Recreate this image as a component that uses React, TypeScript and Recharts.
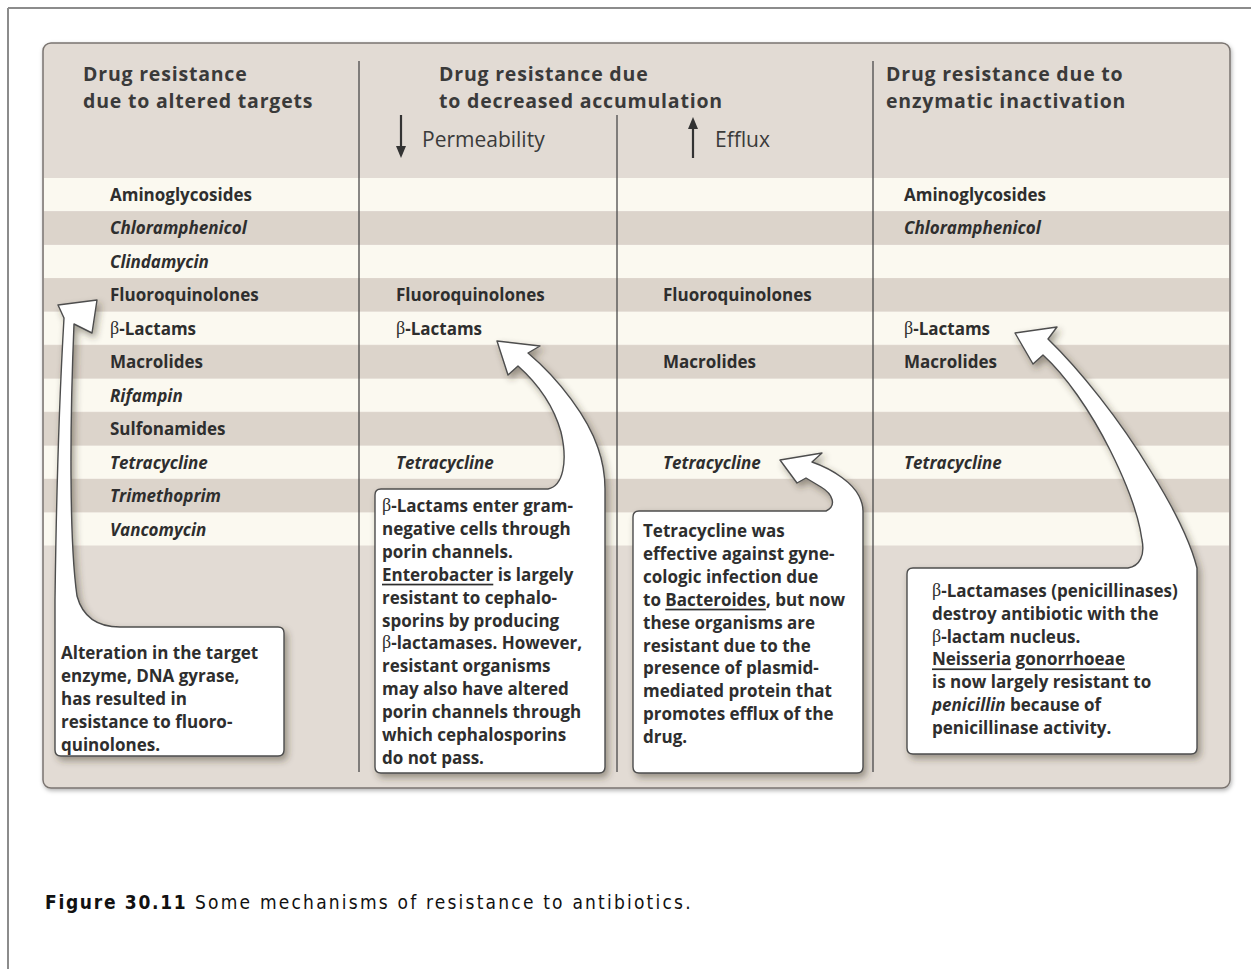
import React from 'react';
import { BarChart, Bar, XAxis, YAxis, Cell, LabelList } from 'recharts';

// rows of the table, top to bottom
const drugs = [
  'Aminoglycosides',
  'Chloramphenicol',
  'Clindamycin',
  'Fluoroquinolones',
  'β-Lactams',
  'Macrolides',
  'Rifampin',
  'Sulfonamides',
  'Tetracycline',
  'Trimethoprim',
  'Vancomycin',
];
const italicDrugs = ['Chloramphenicol', 'Clindamycin', 'Rifampin', 'Tetracycline', 'Trimethoprim', 'Vancomycin'];

// 1 = drug listed under that mechanism
const alteredTargets = [1, 1, 1, 1, 1, 1, 1, 1, 1, 1, 1];
const decreasedPermeability = [0, 0, 0, 1, 1, 0, 0, 0, 1, 0, 0];
const increasedEfflux = [0, 0, 0, 1, 0, 1, 0, 0, 1, 0, 0];
const enzymaticInactivation = [1, 1, 0, 0, 1, 1, 0, 0, 1, 0, 0];

const mechanisms = [alteredTargets, decreasedPermeability, increasedEfflux, enzymaticInactivation];

const rows = drugs.map((drug, i) => ({
  drug,
  band: 1,
  altered: alteredTargets[i],
  permeability: decreasedPermeability[i],
  efflux: increasedEfflux[i],
  enzymatic: enzymaticInactivation[i],
}));

const W = 1251;
const H = 969;
const FONT = "'Open Sans', 'Noto Sans', sans-serif";
const TEXT = '#2e2e2e';
const LIGHT_ROW = '#fbf9f0';
const DARK_ROW = '#dcd4cb';
const PANEL = '#e2dbd4';

// x offset of each column's text from the left of the row band
const colOffsets = [66, 352, 619, 860];

const DrugName = ({ x, y, name }: { x: number; y: number; name: string }) => {
  const italic = italicDrugs.includes(name);
  const beta = name.startsWith('β');
  return (
    <text
      x={x}
      y={y}
      dominantBaseline="central"
      fontFamily={FONT}
      fontSize={17}
      fontWeight={700}
      fontStyle={italic ? 'italic' : 'normal'}
      fill={TEXT}
    >
      {beta ? (
        <>
          <tspan fontFamily="'Liberation Serif', serif" fontWeight={400} fontSize={18}>β</tspan>
          {name.slice(1)}
        </>
      ) : (
        name
      )}
    </text>
  );
};

const RowLabels = (props: any) => {
  const x = Number(props.x);
  const y = Number(props.y);
  const h = Number(props.height);
  const i = drugs.indexOf(props.value);
  if (i < 0) return null;
  return (
    <g>
      {mechanisms.map((m, k) =>
        m[i] ? <DrugName key={k} x={x + colOffsets[k]} y={y + h / 2} name={drugs[i]} /> : null
      )}
    </g>
  );
};

type Seg = { t: string; u?: boolean; i?: boolean; b?: boolean };

const callouts: { path: string; x: number; y0: number; dy: number; lines: Seg[][] }[] = [
  {
    path:
      'M 55 750 L 55 600 C 56 520 58 420 64 318 L 58 305 L 97 300 L 92 333 L 74 324 C 70 420 69 540 77 596 C 83 618 98 627 120 627 L 278 627 Q 284 627 284 633 L 284 750 Q 284 756 278 756 L 61 756 Q 55 756 55 750 Z',
    x: 61,
    y0: 652,
    dy: 23,
    lines: [
      [{ t: 'Alteration in the target' }],
      [{ t: 'enzyme, DNA gyrase,' }],
      [{ t: 'has resulted in' }],
      [{ t: 'resistance to fluoro-' }],
      [{ t: 'quinolones.' }],
    ],
  },
  {
    path:
      'M 381 489 L 548 489 C 563 486 568 462 561 432 C 553 404 536 382 518 366 L 508 375 L 497 341 L 540 346 L 528 353 C 560 380 588 418 598 448 C 604 465 605 478 605 489 L 605 767 Q 605 773 599 773 L 381 773 Q 375 773 375 767 L 375 495 Q 375 489 381 489 Z',
    x: 382,
    y0: 505,
    dy: 22.9,
    lines: [
      [{ t: 'β', b: true }, { t: '-Lactams enter gram-' }],
      [{ t: 'negative cells through' }],
      [{ t: 'porin channels.' }],
      [{ t: 'Enterobacter', u: true }, { t: ' is largely' }],
      [{ t: 'resistant to cephalo-' }],
      [{ t: 'sporins by producing' }],
      [{ t: 'β', b: true }, { t: '-lactamases.  However,' }],
      [{ t: 'resistant organisms' }],
      [{ t: 'may also have altered' }],
      [{ t: 'porin channels through' }],
      [{ t: 'which cephalosporins' }],
      [{ t: 'do not pass.' }],
    ],
  },
  {
    path:
      'M 639 511 L 826 511 C 837 506 833 494 821 487 L 806 478 L 797 483 L 780 460 L 822 453 L 812 462 C 835 470 853 484 859 496 C 863 504 863 508 863 511 L 863 767 Q 863 773 857 773 L 639 773 Q 633 773 633 767 L 633 517 Q 633 511 639 511 Z',
    x: 643,
    y0: 530,
    dy: 22.9,
    lines: [
      [{ t: 'Tetracycline was' }],
      [{ t: 'effective against gyne-' }],
      [{ t: 'cologic infection due' }],
      [{ t: 'to ' }, { t: 'Bacteroides', u: true }, { t: ', but now' }],
      [{ t: 'these organisms are' }],
      [{ t: 'resistant due to the' }],
      [{ t: 'presence of plasmid-' }],
      [{ t: 'mediated protein that' }],
      [{ t: 'promotes efflux of the' }],
      [{ t: 'drug.' }],
    ],
  },
  {
    path:
      'M 913 568 L 1128 568 C 1140 566 1145 555 1142 540 C 1138 510 1125 480 1110 450 C 1090 410 1065 375 1043 355 L 1033 364 L 1015 333 L 1057 327 L 1048 339 C 1080 370 1120 420 1150 470 C 1175 510 1190 540 1197 568 L 1197 748 Q 1197 754 1191 754 L 913 754 Q 907 754 907 748 L 907 574 Q 907 568 913 568 Z',
    x: 932,
    y0: 590,
    dy: 22.8,
    lines: [
      [{ t: 'β', b: true }, { t: '-Lactamases (penicillinases)' }],
      [{ t: 'destroy antibiotic with the' }],
      [{ t: 'β', b: true }, { t: '-lactam nucleus.' }],
      [{ t: 'Neisseria', u: true }, { t: ' ' }, { t: 'gonorrhoeae', u: true }],
      [{ t: 'is now largely resistant to' }],
      [{ t: 'penicillin', i: true }, { t: ' because of' }],
      [{ t: 'penicillinase activity.' }],
    ],
  },
];

const headers = [
  { x: 83, lines: ['Drug resistance', 'due to altered targets'] },
  { x: 439, lines: ['Drug resistance due', 'to decreased accumulation'] },
  { x: 886, lines: ['Drug resistance due to', 'enzymatic inactivation'] },
];

const App: React.FC = () => {
  return (
    <div style={{ position: 'absolute', left: 0, top: 0, width: W, height: H, background: '#fff', overflow: 'hidden' }}>
      {/* page frame and panel */}
      <svg width={W} height={H} style={{ position: 'absolute', left: 0, top: 0 }}>
        <defs>
          <filter id="panelShadow" x="-5%" y="-5%" width="110%" height="110%">
            <feDropShadow dx="1" dy="2" stdDeviation="2" floodColor="#000" floodOpacity="0.3" />
          </filter>
        </defs>
        <line x1={8} y1={8} x2={W} y2={8} stroke="#8c8c8c" strokeWidth={2} />
        <line x1={8} y1={8} x2={8} y2={H} stroke="#8c8c8c" strokeWidth={2} />
        <rect x={43} y={43} width={1187} height={745} rx={8} fill={PANEL} stroke="#7a7470" strokeWidth={1.5} filter="url(#panelShadow)" />
      </svg>

      <div style={{ position: 'absolute', left: 0, top: 0 }}>
        <BarChart
          width={W}
          height={H}
          data={rows}
          layout="vertical"
          margin={{ top: 178, right: 22, bottom: 423, left: 44 }}
          barCategoryGap={0}
        >
          <XAxis type="number" domain={[0, 1]} hide />
          <YAxis type="category" dataKey="drug" hide />
          <Bar dataKey="band" isAnimationActive={false}>
            {rows.map((r, i) => (
              <Cell key={r.drug} fill={i % 2 === 0 ? LIGHT_ROW : DARK_ROW} />
            ))}
            <LabelList dataKey="drug" content={RowLabels} />
          </Bar>
        </BarChart>
      </div>

      {/* headings, dividers and callouts */}
      <svg width={W} height={H} style={{ position: 'absolute', left: 0, top: 0 }}>
        <defs>
          <filter id="callShadow" x="-20%" y="-20%" width="140%" height="140%">
            <feDropShadow dx="3" dy="4" stdDeviation="3.5" floodColor="#3b3228" floodOpacity="0.45" />
          </filter>
        </defs>

        <line x1={359} y1={61} x2={359} y2={772} stroke="#4a4a4a" strokeWidth={1.3} />
        <line x1={617} y1={115} x2={617} y2={772} stroke="#4a4a4a" strokeWidth={1.3} />
        <line x1={873} y1={61} x2={873} y2={772} stroke="#4a4a4a" strokeWidth={1.3} />

        {headers.map((h) =>
          h.lines.map((l, k) => (
            <text
              key={`${h.x}-${k}`}
              x={h.x}
              y={81 + k * 26.5}
              fontFamily={FONT}
              fontSize={19.5}
              fontWeight={700}
              letterSpacing={0.8}
              fill="#3a3a3a"
            >
              {l}
            </text>
          ))
        )}

        {/* ↓ Permeability */}
        <line x1={401} y1={115} x2={401} y2={148} stroke="#333" strokeWidth={2.2} />
        <path d="M 396 146 L 406 146 L 401 158 Z" fill="#333" />
        <text x={422} y={147} fontFamily={FONT} fontSize={21} fill="#3a3a3a">Permeability</text>
        {/* ↑ Efflux */}
        <line x1={693} y1={127} x2={693} y2={158} stroke="#333" strokeWidth={2.2} />
        <path d="M 688 129 L 698 129 L 693 117 Z" fill="#333" />
        <text x={715} y={147} fontFamily={FONT} fontSize={21} fill="#3a3a3a">Efflux</text>

        {callouts.map((c, ci) => (
          <g key={ci}>
            <path d={c.path} fill="#fff" stroke="#4d4d4d" strokeWidth={1.4} strokeLinejoin="round" filter="url(#callShadow)" />
            {c.lines.map((line, li) => (
              <text
                key={li}
                x={c.x}
                y={c.y0 + li * c.dy}
                dominantBaseline="central"
                fontFamily={FONT}
                fontSize={17}
                fontWeight={700}
                fill={TEXT}
              >
                {line.map((s, si) => (
                  <tspan
                    key={si}
                    fontStyle={s.i ? 'italic' : 'normal'}
                    fontFamily={s.b ? "'Liberation Serif', serif" : undefined}
                    fontWeight={s.b ? 400 : undefined}
                    fontSize={s.b ? 18 : undefined}
                    style={s.u ? { textDecoration: 'underline' } : undefined}
                  >
                    {s.t}
                  </tspan>
                ))}
              </text>
            ))}
          </g>
        ))}

        <text
          x={45}
          y={909}
          fontFamily="'Liberation Sans Narrow', 'DejaVu Sans Condensed', 'Liberation Sans', sans-serif"
          fontSize={19}
          fill="#111"
        >
          <tspan fontWeight={700} letterSpacing={1.7}>Figure 30.11</tspan>
          <tspan letterSpacing={2.2}> Some mechanisms of resistance to antibiotics.</tspan>
        </text>
      </svg>
    </div>
  );
};

export default App;
